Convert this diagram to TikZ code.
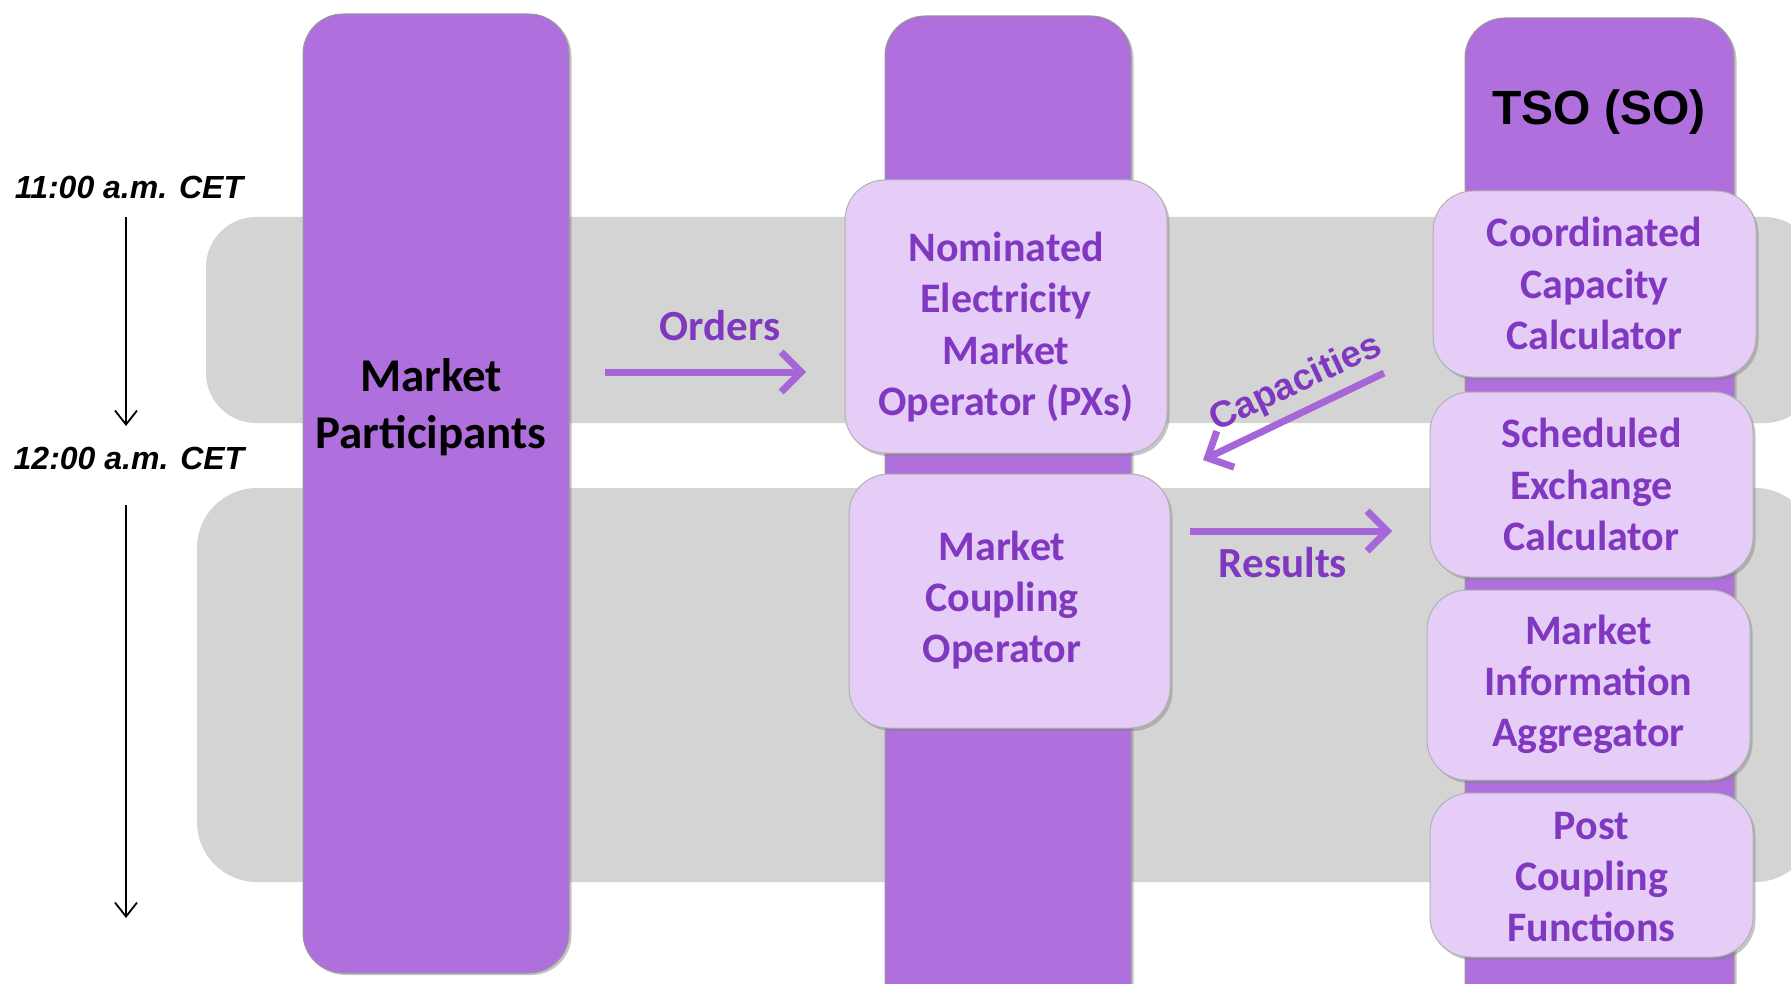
\documentclass[tikz,border=0pt]{standalone}
\usepackage{fontspec}
\setmainfont{Carlito}
\newfontfamily\arialfont{Liberation Sans}
\usetikzlibrary{arrows.meta,shadows}
\definecolor{colpurple}{RGB}{175,112,221}
\definecolor{boxfill}{RGB}{229,205,248}
\definecolor{txtpurple}{RGB}{128,56,192}
\definecolor{arrpurple}{RGB}{167,102,216}
\definecolor{bandgray}{RGB}{212,212,212}
\tikzset{
  band/.style={fill=bandgray},
  column/.style={fill=colpurple, draw=black!40, line width=1pt, rounded corners=40pt,
    drop shadow={shadow xshift=2.5pt, shadow yshift=-2pt, opacity=0.45}},
  lbox/.style={fill=boxfill, draw=black!30, line width=1pt, rounded corners=40pt, inner sep=0pt,
    drop shadow={shadow xshift=2.5pt, shadow yshift=-3pt, opacity=0.45}},
  btext/.style={align=center, text=txtpurple, inner sep=0pt,
    font=\fontsize{42}{51.3}\selectfont\bfseries},
  lbl/.style={text=txtpurple, inner sep=0pt, font=\fontsize{43}{52}\selectfont\bfseries},
  timetext/.style={inner sep=0pt, font=\arialfont\fontsize{32}{38}\selectfont\bfseries\itshape},
  tarrow/.style={draw=black, line width=1.8pt, -{Straight Barb[length=14pt,width=22pt]}},
  parrow/.style={draw=arrpurple, line width=7pt, -{Straight Barb[length=20pt,width=40pt]}}
}
\begin{document}
\begin{tikzpicture}[x=1pt,y=-1pt]
\useasboundingbox (0,0) rectangle (1791,984);
\clip (0,0) rectangle (1791,984);
\fill[white] (0,0) rectangle (1791,984);
% grey time bands
\fill[band, rounded corners=50pt] (206,217) rectangle (1815,423);
\fill[band, rounded corners=60pt] (197,488) rectangle (1815,882);
% columns
\path[column] (303,14) rectangle (569,973);
\path[column] (885,16) rectangle (1131,1030);
\path[column] (1465,18) rectangle (1734,1030);
% column texts
\node[inner sep=0pt, align=center, font=\fontsize{47}{57.3}\selectfont\bfseries] (mp) at (431,407) {Market\\Participants};
\node[inner sep=0pt, font=\arialfont\fontsize{48}{56}\selectfont\bfseries] (tso) at (1599,112) {TSO (SO)};
% light boxes
\node[lbox, minimum width=322pt, minimum height=273pt] (nemo) at (1006,316.5) {};
\node[btext] (nemot) at (1006,327) {Nominated\\Electricity\\Market\\Operator (PXs)};
\node[lbox, minimum width=321pt, minimum height=254pt] (mco) at (1009.5,601) {};
\node[btext] (mcot) at (1002,600) {Market\\Coupling\\Operator};
\node[lbox, minimum width=323pt, minimum height=186pt] (ccc) at (1594.5,284) {};
\node[btext] (ccct) at (1594.5,283.5) {Coordinated\\Capacity\\Calculator};
\node[lbox, minimum width=323pt, minimum height=185pt] (sec) at (1591.5,484.5) {};
\node[btext] (sect) at (1591.5,484.5) {Scheduled\\Exchange\\Calculator};
\node[lbox, minimum width=323pt, minimum height=190pt] (mia) at (1588.5,685) {};
\node[btext] (miat) at (1588.5,684.5) {Market\\Information\\Aggregator};
\node[lbox, minimum width=323pt, minimum height=164pt] (pcf) at (1591.5,875) {};
\node[btext] (pcft) at (1591.5,877) {Post\\Coupling\\Functions};
% timeline
\node[timetext] (t11) at (129,187) {11:00 a.m. CET};
\node[timetext] (t12) at (129,458) {12:00 a.m. CET};
\coordinate (t1s) at (126,217);
\coordinate (t1e) at (126,426);
\coordinate (t2s) at (126,505);
\coordinate (t2e) at (126,918);
\draw[tarrow] (t1s) -- (t1e);
\draw[tarrow] (t2s) -- (t2e);
% flows
\coordinate (oS) at (605,372);
\coordinate (oE) at (806,372);
\draw[parrow] (oS) -- (oE);
\node[lbl] (orders) at (720,326) {Orders};
\coordinate (cS) at (1384,373);
\coordinate (cE) at (1203,460);
\draw[parrow] (cS) -- (cE);
\node[text=txtpurple, inner sep=0pt, rotate=25, font=\arialfont\fontsize{37}{44}\selectfont\bfseries] (cap) at (1296,384) {Capacities};
\coordinate (rS) at (1190,531);
\coordinate (rE) at (1392,531);
\draw[parrow] (rS) -- (rE);
\node[lbl] (results) at (1283,563) {Results};
\end{tikzpicture}
\end{document}
